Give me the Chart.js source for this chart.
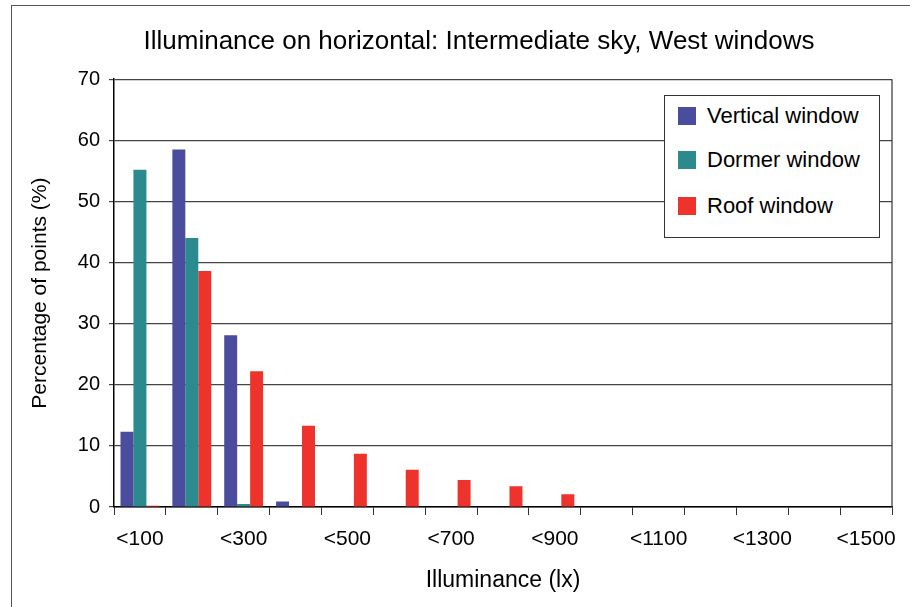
<!DOCTYPE html>
<html lang="en">
<head>
<meta charset="utf-8">
<title>Illuminance on horizontal</title>
<script src="https://cdn.jsdelivr.net/npm/chart.js@4.4.0/dist/chart.umd.min.js"></script>
<style>
  body { margin: 0; background: #fff; }
  #wrap { position: relative; width: 910px; height: 607px; overflow: hidden; }
  #frame { position: absolute; left: 11px; top: 5px; width: 920px; height: 620px; border: 1px solid #555; box-sizing: border-box; pointer-events: none; }
  #legend { position: absolute; left: 664px; top: 95px; width: 216px; height: 143px; border: 1px solid #333; box-sizing: border-box; background: #fff;
            font-family: "Liberation Sans", Arial, sans-serif; font-size: 22px; color: #000; }
  .row { position: absolute; left: 13px; height: 24px; line-height: 24px; white-space: nowrap; }
  .sw { display: inline-block; width: 18px; height: 18px; vertical-align: -2px; margin-right: 11px; }
</style>
</head>
<body>
<div id="wrap">
  <canvas id="myChart" width="910" height="607"></canvas>
  <div id="frame"></div>
  <div id="legend"></div>
</div>
<script>
// data
const categories = ['<100','<200','<300','<400','<500','<600','<700','<800','<900','<1000','<1100','<1200','<1300','<1400','<1500'];
const verticalWin = [12.3, 58.5, 28.1, 0.9, 0, 0, 0, 0, 0, 0, 0, 0, 0, 0, 0];
const dormerWin   = [55.2, 44.0, 0.5, 0, 0, 0, 0, 0, 0, 0, 0, 0, 0, 0, 0];
const roofWin     = [0.2, 38.6, 22.2, 13.3, 8.7, 6.1, 4.4, 3.4, 2.1, 0, 0, 0, 0, 0, 0];
const yTicks = [0, 10, 20, 30, 40, 50, 60, 70];

const font = "'Liberation Sans', Arial, sans-serif";
const padLeft = 66; // shifts the chart title centre to the right like the original

const data = {
  labels: categories,
  datasets: [
    { label: 'Vertical window', data: verticalWin, backgroundColor: '#4a4d9e' },
    { label: 'Dormer window', data: dormerWin, backgroundColor: '#2a8a8e' },
    { label: 'Roof window', data: roofWin, backgroundColor: '#ee322c' }
  ]
};

// right edge of the plot box
const plotBorder = {
  id: 'plotBorder',
  afterDraw(chart) {
    const a = chart.chartArea, ctx = chart.ctx;
    ctx.save();
    ctx.strokeStyle = '#333';
    ctx.lineWidth = 1.2;
    ctx.beginPath();
    ctx.moveTo(a.right, a.top);
    ctx.lineTo(a.right, a.bottom);
    ctx.stroke();
    ctx.restore();
  }
};

const config = {
  type: 'bar',
  data: data,
  plugins: [plotBorder],
  options: {
    responsive: false,
    animation: false,
    layout: { padding: { left: padLeft, right: 18, top: 0, bottom: 0 } },
    datasets: { bar: { categoryPercentage: 0.75, barPercentage: 1.0 } },
    scales: {
      x: {
        grid: { display: true, drawOnChartArea: false, offset: true, tickLength: 8, color: '#333' },
        border: { color: '#000', width: 1.5 },
        ticks: {
          autoSkip: false, maxRotation: 0, padding: 12, color: '#000',
          font: { family: font, size: 21 },
          callback: function(v, i) { return i % 2 === 0 ? categories[i] : ''; }
        },
        title: { display: true, text: 'Illuminance (lx)', color: '#000', font: { family: font, size: 23 }, padding: { top: 0, bottom: 13 } },
        afterFit: function(s) { s.height = 100; }
      },
      y: {
        min: 0, max: 70,
        afterBuildTicks: function(s) { s.ticks = yTicks.map(v => ({ value: v })); },
        grid: { color: '#444', lineWidth: 1.2, tickLength: 5 },
        border: { color: '#000', width: 1.5 },
        ticks: { padding: 9, color: '#000', font: { family: font, size: 20 } },
        title: { display: true, text: 'Percentage of points (%)', color: '#000', font: { family: font, size: 21 }, padding: { top: 28 - padLeft, bottom: 0 } },
        afterFit: function(s) { s.width = 114 - padLeft; }
      }
    },
    plugins: {
      legend: { display: false },
      tooltip: { enabled: false },
      title: {
        display: true,
        text: 'Illuminance on horizontal: Intermediate sky, West windows',
        color: '#000',
        font: { family: font, size: 26, weight: 'normal' },
        padding: { top: 26, bottom: 22 }
      }
    }
  }
};

const myChart = new Chart(document.getElementById('myChart'), config);

// legend box drawn as html from the datasets
const legend = document.getElementById('legend');
const rowTops = [8, 52, 98];
data.datasets.forEach(function(ds, i) {
  const row = document.createElement('div');
  row.className = 'row';
  row.style.top = rowTops[i] + 'px';
  row.innerHTML = '<span class="sw" style="background:' + ds.backgroundColor + '"></span>' + ds.label;
  legend.appendChild(row);
});
</script>
</body>
</html>
